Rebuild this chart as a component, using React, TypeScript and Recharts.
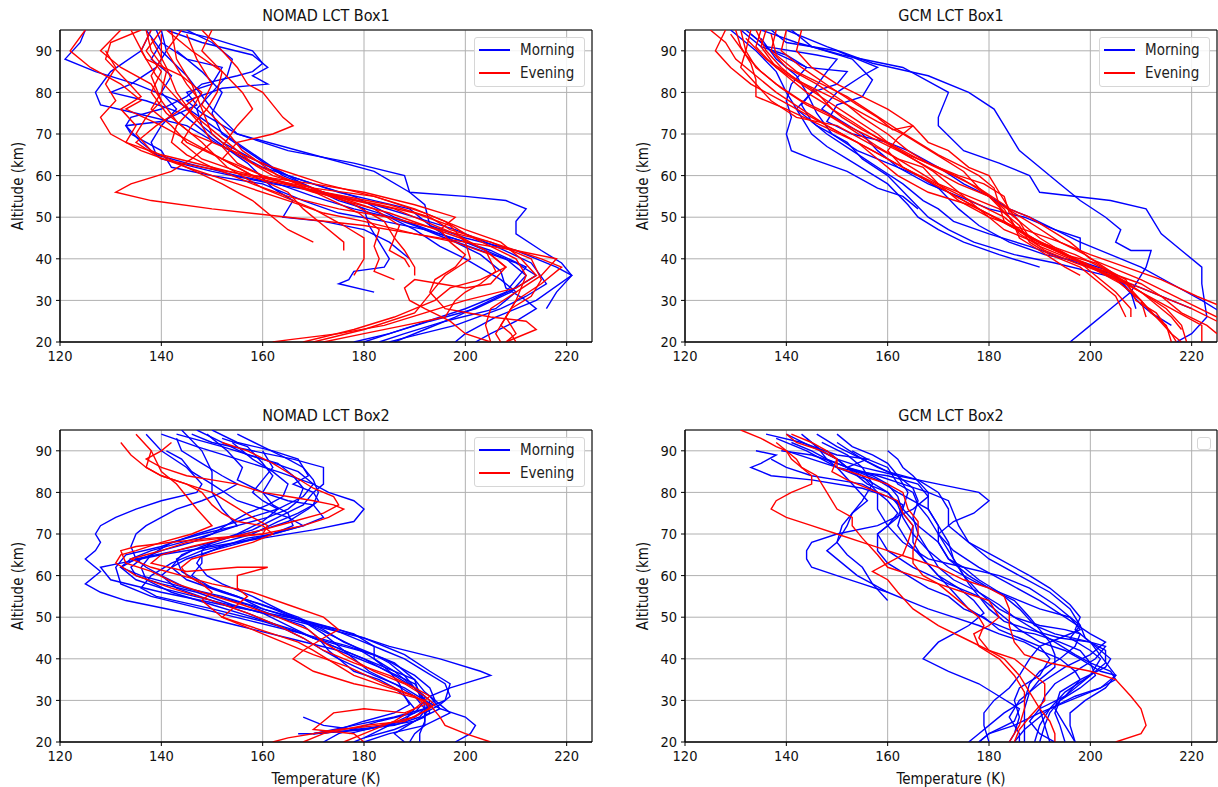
import React from "react";
import { LineChart, Line, XAxis, YAxis, CartesianGrid, ReferenceArea } from "recharts";

// temperature (K) ticks and altitude (km) ticks
const xTicks = [120, 140, 160, 180, 200, 220];
const yTicks = [20, 30, 40, 50, 60, 70, 80, 90];
const xDomain = [120, 225];
const yDomain = [20, 95];

// every profile is a list of [temperature, altitude]
const nomadBox1Morning = [
  [[137, 95], [140, 90], [145, 84], [150, 76], [155, 70], [165, 66], [178, 63], [188, 60], [189, 56], [200, 55], [208, 54], [212, 52], [210, 49], [210, 46], [215, 42], [219, 39], [221, 36], [218, 32], [216, 28]],
  [[141, 95], [148, 92], [158, 89], [161, 86], [158, 84], [161, 82], [152, 81], [145, 78], [148, 75], [155, 70], [170, 65], [182, 61], [189, 56], [192, 53], [193, 48], [200, 45], [210, 42], [218, 38], [221, 36], [214, 30], [206, 26], [200, 22], [198, 20]],
  [[138, 95], [136, 90], [130, 85], [127, 80], [128, 77], [135, 75], [145, 72], [152, 67], [160, 62], [170, 58], [178, 55], [186, 50], [195, 46], [205, 42], [212, 38], [208, 32], [200, 28], [190, 24], [180, 20]],
  [[140, 92], [145, 88], [152, 86], [150, 82], [145, 80], [147, 77], [140, 73], [133, 72], [134, 70], [140, 66], [142, 62], [150, 60], [160, 58], [168, 54], [175, 51], [184, 49], [192, 47], [200, 44], [208, 40], [212, 36], [209, 32], [202, 28], [193, 25], [185, 22], [178, 20]],
  [[143, 90], [148, 85], [152, 80], [150, 75], [152, 70], [158, 65], [164, 60], [170, 57], [176, 54], [180, 52], [181, 48], [183, 44], [185, 40], [184, 38], [178, 37], [177, 35], [175, 34], [182, 32]],
  [[140, 95], [141, 90], [139, 86], [134, 82], [130, 80], [137, 78], [144, 75], [150, 69], [157, 63], [162, 57], [166, 54], [164, 50], [172, 49], [180, 47], [185, 44], [189, 40]],
  [[143, 95], [150, 93], [158, 90], [160, 87], [158, 85], [155, 84], [148, 82], [145, 79], [140, 76], [134, 74], [133, 72], [136, 68], [140, 64], [150, 61], [162, 58], [172, 56], [182, 53], [190, 50], [198, 47], [206, 43], [213, 39], [216, 34], [212, 31], [207, 28], [198, 24], [188, 21], [185, 20]],
  [[145, 95], [150, 92], [154, 88], [153, 84], [150, 80], [147, 76], [148, 72], [152, 68], [158, 64], [165, 60], [175, 56], [182, 54], [189, 52], [193, 48], [198, 44], [203, 41], [207, 37], [208, 33], [212, 30], [214, 28], [210, 25], [205, 22], [202, 20]],
  [[139, 95], [140, 92], [138, 88], [142, 84], [140, 80], [143, 76], [140, 72], [138, 68], [139, 65], [145, 63], [155, 60], [163, 58], [170, 55], [178, 52], [185, 50], [190, 47], [195, 43], [200, 40], [207, 35], [210, 32], [206, 28], [196, 25], [188, 22], [183, 20]],
  [[125, 95], [124, 92], [121, 88], [127, 85], [135, 82], [143, 78], [150, 72], [156, 67], [162, 62], [168, 58], [175, 54], [183, 51], [190, 48], [196, 45], [203, 42], [210, 39], [214, 36], [210, 33], [205, 30], [198, 26], [192, 23], [186, 20]],
];

const nomadBox1Evening = [
  [[138, 95], [136, 90], [139, 84], [142, 80], [145, 76], [148, 72], [150, 68], [146, 64], [142, 61], [134, 58], [131, 56], [138, 54], [150, 52], [165, 50], [180, 48], [190, 46], [200, 44], [210, 42], [218, 40], [215, 36], [210, 32], [205, 28], [204, 24], [205, 20]],
  [[132, 95], [128, 90], [132, 86], [138, 82], [140, 78], [137, 74], [135, 70], [138, 66], [145, 62], [152, 58], [158, 54], [162, 50], [165, 47], [170, 44]],
  [[125, 95], [122, 90], [126, 86], [132, 82], [136, 78], [133, 76], [140, 72], [146, 68], [152, 64], [158, 60], [165, 56], [168, 52], [172, 48], [176, 44], [176, 42]],
  [[148, 95], [152, 90], [155, 86], [157, 82], [160, 80], [162, 77], [164, 74], [166, 72], [162, 70], [155, 68], [152, 64], [158, 60], [170, 57], [182, 55], [190, 52], [196, 49], [200, 46], [205, 43], [210, 40], [212, 36], [210, 30], [208, 26], [206, 22], [207, 20]],
  [[136, 95], [130, 92], [129, 88], [133, 83], [136, 79], [132, 76], [135, 72], [133, 68], [140, 65], [150, 62], [158, 58], [165, 55], [175, 52], [185, 50], [195, 47], [205, 44], [215, 40], [219, 38], [215, 34], [210, 30], [208, 26], [210, 22], [208, 20]],
  [[140, 94], [140, 88], [138, 84], [140, 78], [143, 73], [148, 68], [153, 62], [160, 57], [170, 52], [176, 48], [180, 45], [180, 40], [178, 36]],
  [[142, 95], [143, 88], [146, 82], [148, 76], [150, 70], [155, 65], [162, 60], [170, 57], [178, 53], [184, 49], [186, 45], [185, 42], [188, 40], [189, 38]],
  [[138, 93], [141, 86], [143, 80], [146, 75], [152, 69], [158, 63], [165, 59], [172, 55], [179, 51], [183, 47], [182, 43], [183, 40], [182, 37], [186, 35]],
  [[145, 94], [147, 88], [150, 82], [148, 77], [152, 72], [156, 66], [163, 60], [172, 56], [182, 52], [187, 48], [186, 45], [188, 42], [190, 38], [190, 36]],
  [[140, 95], [137, 90], [140, 85], [138, 80], [141, 75], [146, 70], [154, 66], [162, 62], [172, 58], [182, 55], [192, 51], [200, 47], [207, 44], [211, 40], [214, 36], [210, 33], [200, 30], [192, 27], [184, 24], [175, 22], [165, 20.5], [162, 20]],
  [[150, 95], [148, 90], [152, 85], [151, 80], [149, 76], [146, 72], [144, 68], [148, 64], [155, 61], [165, 58], [175, 55], [183, 53], [190, 51], [197, 48], [200, 44], [201, 40], [196, 36], [194, 33], [192, 30], [190, 27], [180, 23], [170, 20]],
  [[137, 95], [138, 90], [141, 85], [140, 80], [138, 76], [142, 72], [145, 68], [152, 64], [160, 60], [170, 56], [178, 54], [186, 52], [192, 49], [198, 46], [204, 42], [208, 38], [205, 34], [200, 33], [195, 34], [190, 35], [188, 33], [189, 30], [192, 28], [197, 25], [200, 22], [205, 20]],
  [[144, 95], [141, 90], [143, 86], [145, 82], [147, 79], [144, 76], [139, 72], [135, 68], [140, 64], [148, 62], [158, 60], [170, 58], [180, 56], [190, 53], [198, 50], [195, 47], [197, 44], [200, 41], [198, 38], [194, 35], [193, 32], [196, 28], [205, 26], [212, 25], [214, 23], [208, 20]],
  [[134, 95], [137, 88], [144, 84], [148, 80], [146, 76], [143, 72], [142, 68], [145, 65], [150, 62], [160, 59], [172, 56], [185, 53], [193, 50], [197, 47], [205, 44], [213, 40], [215, 35], [213, 31], [209, 28], [207, 24], [209, 22], [210, 20]],
  [[141, 95], [146, 90], [152, 85], [156, 80], [158, 76], [155, 72], [152, 67], [155, 63], [160, 60], [168, 57], [176, 54], [185, 51], [192, 48], [199, 45], [204, 42], [206, 37], [203, 34], [200, 32], [198, 30], [196, 26], [188, 24], [180, 22], [172, 20]],
  [[129, 90], [131, 86], [129, 82], [131, 78], [128, 74], [130, 70], [136, 66], [145, 62], [155, 58], [165, 54], [172, 51], [180, 49], [190, 46], [198, 44], [205, 41], [208, 38], [203, 35], [197, 33], [194, 30], [186, 26], [178, 23], [168, 20]],
];

const gcmBox1Morning = [
  [[135, 95], [142, 92], [151, 89], [163, 86], [172, 80], [170, 74], [170, 72], [175, 66], [182, 63], [188, 60], [190, 56], [204, 54], [211, 52], [214, 46], [218, 42], [222, 38], [222, 34], [223, 26], [220, 22], [217, 20]],
  [[140, 95], [148, 91], [157, 87], [168, 84], [176, 80], [181, 76], [183, 72], [186, 66], [190, 62], [194, 58], [198, 54], [203, 50], [206, 47], [205, 44], [208, 42], [212, 42], [211, 38], [208, 32], [204, 28], [200, 24], [196, 20]],
  [[131, 95], [135, 91], [140, 89], [144, 86], [141, 82], [140, 78], [141, 74], [140, 70], [141, 66], [145, 64], [152, 61], [158, 57], [163, 55], [166, 52]],
  [[133, 94], [136, 91], [146, 89], [150, 88], [148, 85], [145, 80], [143, 77], [145, 73], [148, 70], [153, 66], [158, 62], [163, 58], [167, 54], [170, 52], [173, 49], [180, 46], [188, 43], [195, 40], [200, 38], [205, 36], [208, 32], [209, 28]],
  [[137, 95], [140, 92], [150, 90], [158, 86], [155, 84], [150, 80], [147, 76], [151, 73], [155, 70], [158, 66], [162, 62], [168, 58], [174, 55], [180, 52], [187, 50], [193, 47], [198, 44], [204, 41], [210, 38], [216, 34], [222, 30], [226, 27]],
  [[135, 93], [138, 88], [142, 84], [144, 80], [146, 75], [149, 70], [154, 66], [160, 63], [166, 60], [170, 57], [174, 52], [178, 48], [184, 44], [191, 41], [199, 39], [204, 37], [207, 33], [210, 29], [212, 27], [216, 24]],
  [[132, 95], [137, 90], [144, 86], [152, 85], [150, 82], [145, 80], [142, 76], [146, 72], [152, 68], [155, 64], [160, 60], [164, 55], [168, 50], [172, 47], [177, 44], [185, 41], [193, 39], [203, 36], [210, 33], [216, 30], [220, 28]],
  [[141, 95], [145, 91], [153, 88], [157, 83], [155, 79], [150, 77], [148, 73], [153, 70], [160, 68], [164, 66], [170, 62], [175, 58], [180, 55], [184, 52], [188, 50], [193, 47], [198, 45], [198, 42]],
  [[129, 95], [134, 90], [138, 85], [140, 80], [143, 74], [145, 70], [148, 67], [152, 64], [156, 61], [160, 58], [164, 53], [166, 50], [170, 47], [175, 44], [182, 41], [190, 38]],
];

const gcmBox1Evening = [
  [[125, 95], [128, 92], [130, 88], [134, 84], [138, 80], [143, 76], [148, 72], [154, 68], [160, 64], [166, 60], [172, 56], [178, 52], [184, 48], [190, 44], [197, 40], [204, 36], [212, 32], [220, 28], [225, 25]],
  [[128, 95], [126, 90], [129, 86], [133, 82], [139, 78], [145, 74], [151, 70], [157, 66], [163, 62], [169, 58], [175, 54], [181, 50], [187, 46], [193, 42], [200, 38], [207, 34], [213, 30], [219, 26], [222, 24], [222, 20]],
  [[130, 95], [131, 91], [133, 87], [134, 83], [134, 79], [140, 76], [147, 72], [154, 68], [158, 64], [162, 60], [168, 56], [176, 53], [183, 49], [188, 45], [193, 42], [199, 39], [205, 35], [210, 30], [213, 26], [216, 22], [217, 20]],
  [[133, 95], [132, 90], [134, 86], [138, 82], [143, 78], [148, 75], [152, 72], [157, 69], [162, 66], [168, 62], [174, 58], [180, 55], [184, 50], [186, 46], [190, 43], [196, 40], [203, 37], [210, 34], [214, 31], [218, 27], [223, 24], [225, 22]],
  [[135, 95], [134, 91], [137, 87], [140, 84], [144, 80], [148, 77], [151, 74], [155, 71], [160, 68], [166, 64], [173, 60], [178, 57], [183, 53], [186, 49], [188, 45], [191, 42], [197, 39], [204, 36], [210, 32], [213, 29], [216, 26], [218, 23]],
  [[132, 93], [136, 88], [141, 84], [146, 80], [149, 76], [153, 73], [158, 69], [164, 65], [170, 62], [175, 59], [180, 55], [183, 52], [185, 48], [186, 45], [190, 42], [195, 38], [198, 36]],
  [[138, 95], [137, 90], [140, 86], [146, 82], [151, 78], [155, 74], [160, 70], [164, 66], [168, 63], [174, 60], [179, 58], [183, 55], [184, 51], [187, 48], [190, 45], [194, 42], [200, 38], [206, 34], [210, 30], [212, 27], [215, 24], [216, 20]],
  [[140, 95], [139, 90], [143, 86], [149, 81], [154, 77], [158, 74], [161, 71], [165, 72], [162, 69], [160, 66], [163, 62], [168, 59], [173, 56], [178, 53], [183, 50], [186, 47], [190, 44], [197, 41], [202, 38], [207, 34], [210, 30], [211, 26]],
  [[137, 94], [138, 89], [142, 85], [147, 82], [152, 79], [157, 75], [162, 71], [166, 68], [170, 65], [175, 62], [178, 60], [181, 57], [182, 53], [183, 49], [187, 46], [192, 43], [197, 40], [200, 37], [205, 32], [208, 28], [208, 26]],
  [[134, 95], [136, 90], [139, 86], [142, 83], [147, 80], [152, 77], [158, 73], [163, 70], [167, 67], [171, 64], [175, 61], [178, 57], [181, 54], [185, 51], [189, 48], [194, 44], [199, 41], [204, 37], [207, 35], [209, 30], [213, 27], [216, 22], [218, 20]],
  [[143, 95], [142, 90], [145, 86], [150, 82], [155, 79], [160, 76], [165, 72], [168, 68], [172, 66], [176, 62], [180, 60], [182, 56], [184, 52], [188, 50], [192, 47], [196, 44], [200, 40], [204, 38], [210, 35], [215, 32], [220, 29], [225, 26]],
  [[131, 95], [132, 90], [131, 86], [134, 82], [137, 78], [142, 74], [150, 72], [156, 68], [162, 64], [167, 62], [170, 58], [174, 54], [180, 50], [187, 47], [194, 44], [200, 41], [207, 38], [214, 35], [221, 31], [225, 29]],
  [[136, 95], [135, 91], [138, 86], [143, 82], [148, 78], [153, 74], [158, 70], [161, 67], [165, 64], [169, 61], [173, 57], [177, 53], [180, 50], [183, 47], [189, 44], [195, 41], [201, 39], [205, 36], [210, 32], [215, 28], [218, 24], [219, 20]],
  [[129, 94], [132, 89], [135, 85], [139, 81], [144, 77], [149, 74], [153, 71], [158, 67], [162, 64], [166, 61], [170, 58], [176, 55], [182, 52], [186, 48], [188, 44], [192, 41], [198, 38], [202, 34], [205, 31], [207, 26]],
];

const nomadBox2Morning = [
  [[140, 94], [147, 91], [155, 88], [163, 85], [170, 82], [173, 80], [178, 78], [180, 76], [178, 73], [170, 71], [160, 69], [150, 67], [140, 65], [132, 63], [128, 62], [130, 59], [140, 56], [152, 53], [165, 50], [175, 47], [185, 43], [195, 40], [203, 37], [205, 36], [197, 33], [193, 31], [195, 28], [200, 26], [202, 24], [201, 22], [198, 20]],
  [[137, 94], [140, 90], [145, 86], [148, 82], [147, 80], [140, 78], [135, 76], [131, 74], [128, 72], [127, 70], [128, 68], [127, 66], [125, 64], [128, 61], [125, 58], [128, 56], [133, 54], [145, 51], [155, 48], [165, 45], [175, 42], [183, 38], [190, 34], [192, 30], [193, 27], [190, 25], [180, 23], [170, 22]],
  [[143, 94], [152, 91], [160, 88], [167, 85], [170, 82], [168, 79], [163, 76], [155, 73], [147, 70], [140, 67], [133, 65], [131, 62], [132, 58], [138, 55], [148, 52], [158, 49], [168, 46], [177, 43], [184, 40], [190, 36], [193, 33], [194, 30], [192, 28], [186, 26], [178, 24], [170, 22], [167, 22]],
  [[146, 94], [150, 92], [158, 90], [166, 88], [172, 86], [172, 82], [170, 80], [168, 77], [163, 74], [158, 71], [150, 68], [143, 66], [135, 64], [132, 62], [135, 59], [140, 57], [150, 54], [160, 51], [170, 48], [180, 45], [188, 41], [193, 37], [197, 34], [196, 30], [190, 27], [183, 25], [175, 22], [172, 20]],
  [[141, 90], [144, 88], [146, 85], [150, 82], [155, 78], [160, 76], [165, 74], [168, 72], [162, 70], [155, 68], [148, 66], [142, 63], [138, 60], [136, 57], [139, 55], [150, 52], [160, 49], [168, 46], [174, 43], [180, 40], [186, 36], [190, 33], [192, 30], [190, 27], [185, 24], [180, 21], [178, 20]],
  [[144, 95], [148, 90], [150, 85], [150, 80], [152, 76], [155, 72], [150, 70], [144, 68], [138, 66], [134, 64], [132, 62], [136, 60], [145, 57], [152, 55], [160, 52], [168, 49], [173, 46], [178, 43], [182, 40], [186, 37], [190, 33], [193, 30], [192, 26], [186, 23], [180, 21]],
  [[149, 94], [153, 90], [156, 86], [155, 83], [160, 80], [165, 78], [170, 77], [172, 74], [168, 72], [162, 70], [156, 68], [150, 66], [145, 64], [142, 62], [140, 60], [143, 57], [150, 54], [157, 51], [163, 48], [168, 45], [172, 42], [175, 40], [182, 36], [188, 33], [192, 30], [195, 28], [190, 25], [186, 22], [188, 20]],
  [[150, 95], [155, 92], [162, 90], [167, 88], [169, 84], [166, 82], [170, 80], [171, 78], [169, 76], [165, 73], [160, 71], [153, 69], [148, 67], [144, 65], [142, 62], [145, 59], [152, 56], [160, 53], [167, 50], [172, 47], [176, 44], [180, 42], [186, 39], [190, 35], [191, 31], [193, 29], [191, 26], [186, 24], [178, 23], [172, 24], [168, 26]],
  [[152, 93], [157, 91], [160, 87], [162, 84], [160, 80], [162, 77], [165, 75], [166, 72], [162, 70], [157, 69], [152, 67], [148, 65], [147, 63], [149, 60], [152, 58], [158, 55], [163, 52], [168, 49], [172, 46], [175, 43], [178, 40], [181, 37], [186, 34], [190, 31], [192, 28], [192, 25], [191, 22], [191, 20]],
  [[143, 93], [144, 90], [148, 87], [152, 84], [155, 82], [152, 80], [148, 78], [143, 76], [140, 74], [137, 72], [135, 70], [134, 67], [135, 64], [137, 62], [140, 60], [145, 57], [151, 55], [157, 53], [163, 50], [168, 48], [171, 45], [173, 42], [175, 40], [178, 37], [183, 35], [186, 33], [188, 31], [189, 29], [186, 27], [180, 25], [175, 23], [170, 22]],
  [[155, 94], [160, 91], [165, 88], [168, 86], [170, 83], [171, 80], [170, 77], [167, 75], [163, 73], [158, 70], [152, 68], [146, 66], [143, 64], [144, 61], [148, 58], [155, 55], [162, 52], [168, 49], [174, 47], [180, 44], [184, 42], [188, 40], [192, 37], [196, 34], [197, 31], [195, 29], [192, 27], [192, 24], [190, 22], [189, 20]],
  [[160, 90], [162, 86], [160, 83], [158, 80], [160, 78], [163, 76], [160, 73], [155, 70], [150, 68], [148, 66], [148, 63], [146, 60], [150, 57], [155, 55], [160, 52], [166, 50], [172, 48], [178, 46], [182, 43], [182, 40], [185, 37], [187, 34], [188, 31], [190, 28], [188, 25], [180, 23], [170, 22]],
  [[147, 95], [152, 92], [157, 89], [163, 87], [166, 84], [168, 81], [167, 78], [165, 76], [161, 74], [155, 72], [148, 70], [142, 68], [138, 65], [136, 62], [137, 59], [142, 56], [150, 53], [158, 50], [166, 47], [172, 44], [178, 41], [184, 38], [190, 35], [192, 32], [194, 30], [197, 27], [192, 24], [185, 22], [180, 20]],
  [[154, 92], [158, 88], [162, 85], [165, 82], [164, 79], [161, 77], [157, 75], [154, 73], [150, 70], [146, 68], [140, 66], [136, 64], [134, 62], [135, 60], [140, 58], [147, 56], [154, 53], [160, 51], [165, 48], [170, 45], [176, 43], [182, 41], [185, 39], [188, 36], [190, 33], [192, 31], [192, 28], [190, 26], [184, 24], [177, 22]],
];

const nomadBox2Evening = [
  [[132, 92], [134, 89], [137, 86], [140, 84], [145, 82], [150, 80], [154, 77], [158, 74], [161, 72], [160, 70], [150, 69], [142, 68], [135, 67], [132, 66], [133, 63], [138, 61], [143, 58], [148, 56], [156, 53], [163, 50], [169, 47], [172, 44], [176, 41], [182, 37], [188, 34], [192, 31], [194, 29], [190, 26], [183, 24], [175, 23], [165, 21], [162, 20]],
  [[135, 94], [138, 90], [137, 86], [140, 84], [145, 82], [148, 80], [150, 77], [152, 75], [155, 73], [160, 72], [162, 70], [158, 68], [152, 66], [146, 64], [144, 62], [145, 60], [148, 58], [150, 56], [148, 54], [150, 52], [152, 50], [157, 48], [162, 46], [167, 44], [170, 42], [174, 39], [178, 36], [185, 33], [190, 31], [193, 29], [195, 26], [196, 24], [200, 22], [205, 20]],
  [[142, 92], [140, 90], [137, 88], [140, 86], [145, 84], [150, 83], [155, 82], [160, 80], [165, 79], [170, 78], [174, 77], [176, 76], [173, 74], [168, 72], [160, 70], [152, 69], [145, 68], [140, 66], [137, 65], [134, 64], [138, 62], [144, 60], [150, 58], [158, 56], [165, 53], [172, 50], [175, 47], [172, 45], [168, 42], [166, 40], [170, 37], [178, 34], [186, 32], [192, 30], [193, 28], [188, 25], [180, 24], [172, 22], [168, 20]],
  [[152, 92], [157, 90], [162, 87], [166, 84], [170, 81], [174, 79], [175, 77], [172, 75], [166, 73], [160, 71], [153, 69], [146, 67], [140, 65], [138, 63], [145, 61], [155, 62], [161, 62], [155, 60], [155, 57], [157, 55], [155, 53], [152, 50], [158, 47], [164, 44], [170, 41], [177, 38], [184, 34], [190, 31], [192, 29], [188, 27], [180, 28], [174, 27], [172, 25], [170, 23], [178, 22], [180, 20]],
  [[138, 90], [140, 85], [143, 82], [145, 79], [147, 76], [150, 72], [146, 70], [140, 68], [135, 66], [132, 65], [131, 63], [135, 60], [142, 57], [150, 54], [157, 51], [163, 48], [168, 45], [172, 42], [178, 39], [185, 36], [190, 33], [193, 31], [190, 28], [186, 25], [180, 22], [176, 20]],
];

const gcmBox2Morning = [
  [[136, 94], [143, 92], [150, 89], [156, 88], [152, 86], [158, 84], [163, 82], [168, 80], [172, 78], [174, 72], [176, 68], [180, 64], [186, 60], [192, 56], [196, 52], [198, 48], [196, 45], [200, 42], [202, 40], [200, 36], [195, 32], [192, 28], [190, 24], [189, 20]],
  [[140, 94], [145, 91], [150, 88], [155, 86], [162, 84], [170, 82], [178, 80], [180, 78], [177, 75], [173, 73], [170, 70], [173, 66], [178, 62], [184, 58], [190, 54], [195, 50], [200, 46], [203, 44], [200, 41], [195, 38], [190, 34], [186, 30], [184, 26], [186, 22], [186, 20]],
  [[134, 90], [138, 89], [135, 87], [133, 86], [137, 84], [145, 83], [155, 81], [160, 79], [163, 77], [162, 74], [160, 72], [158, 70], [160, 66], [165, 62], [172, 58], [178, 55], [182, 51], [186, 47], [190, 44], [195, 42], [198, 40], [202, 37], [205, 36], [202, 33], [196, 30], [190, 27], [185, 24], [180, 22], [178, 20]],
  [[141, 92], [145, 90], [148, 88], [150, 86], [154, 85], [160, 84], [166, 82], [168, 79], [165, 76], [158, 72], [150, 70], [145, 68], [144, 66], [144, 64], [145, 62], [150, 60], [155, 58], [160, 56], [164, 54], [168, 52], [173, 50], [178, 48], [182, 46], [187, 44], [190, 42], [194, 40], [197, 37], [198, 35], [195, 31], [190, 28], [188, 25], [190, 22], [193, 20]],
  [[146, 94], [150, 91], [155, 88], [158, 86], [162, 84], [164, 80], [163, 76], [162, 72], [164, 68], [167, 64], [170, 60], [174, 57], [177, 54], [179, 51], [176, 48], [173, 46], [170, 44], [167, 40], [172, 37], [178, 34], [182, 31], [186, 28], [185, 25], [180, 22], [178, 20]],
  [[140, 90], [145, 88], [150, 86], [153, 82], [156, 78], [153, 75], [151, 72], [150, 68], [152, 65], [155, 62], [157, 58], [160, 54]],
  [[147, 92], [152, 89], [155, 86], [157, 82], [155, 78], [153, 75], [152, 72], [150, 68], [148, 66], [151, 63], [154, 60], [157, 58], [160, 56]],
  [[150, 94], [153, 91], [157, 89], [160, 87], [162, 84], [165, 81], [166, 78], [165, 74], [166, 70], [168, 66], [172, 62], [178, 58], [184, 55], [190, 52], [196, 50], [198, 48], [199, 45], [202, 42], [204, 40], [203, 38], [198, 35], [194, 32], [193, 28], [195, 24], [196, 22], [197, 20]],
  [[153, 90], [156, 88], [160, 86], [162, 82], [165, 80], [166, 77], [168, 74], [170, 70], [172, 66], [174, 62], [176, 58], [178, 55], [180, 52], [183, 49], [188, 47], [194, 45], [200, 44], [203, 43], [201, 40], [197, 37], [193, 34], [191, 31], [190, 28], [191, 24], [190, 20]],
  [[144, 93], [147, 90], [150, 88], [153, 85], [156, 82], [160, 80], [162, 77], [163, 74], [165, 70], [168, 66], [170, 62], [173, 59], [178, 56], [182, 53], [185, 50], [189, 47], [193, 44], [197, 41], [200, 39], [204, 37], [205, 35], [202, 33], [197, 31], [192, 28], [190, 26], [187, 23], [185, 20]],
  [[160, 90], [162, 88], [163, 86], [165, 84], [168, 80], [168, 76], [170, 72], [170, 68], [172, 64], [176, 60], [180, 57], [185, 54], [188, 50], [190, 47], [192, 44], [193, 41], [193, 38], [190, 35], [188, 32], [187, 28], [187, 24], [187, 20]],
  [[139, 90], [145, 89], [150, 87], [154, 85], [158, 83], [162, 80], [168, 76], [170, 72], [172, 68], [173, 64], [175, 60], [178, 56], [182, 52], [185, 50], [190, 48], [195, 47], [198, 46], [197, 43], [194, 40], [190, 37], [188, 34], [187, 30], [183, 27], [180, 24], [178, 22], [176, 20]],
  [[143, 94], [146, 91], [148, 88], [152, 86], [157, 84], [160, 82], [162, 79], [163, 75], [165, 72], [165, 68], [167, 64], [170, 60], [173, 56], [176, 52], [180, 49], [184, 47], [189, 46], [194, 44], [198, 42], [200, 39], [201, 36], [198, 33], [194, 30], [193, 27], [194, 24], [195, 20]],
  [[137, 88], [140, 86], [145, 84], [150, 83], [155, 82], [158, 80], [160, 78], [162, 75], [160, 72], [158, 70], [158, 66], [160, 63], [164, 60], [168, 57], [172, 55], [175, 52], [179, 50], [182, 47], [186, 45], [190, 43], [192, 40], [190, 36], [186, 33], [185, 30], [186, 26], [185, 22], [184, 20]],
  [[150, 92], [155, 88], [160, 85], [166, 83], [170, 80], [172, 76], [172, 72], [176, 68], [182, 64], [188, 60], [192, 57], [196, 53], [198, 50], [197, 47], [200, 44], [203, 42], [203, 39], [200, 36], [197, 33], [194, 30], [192, 27], [191, 24], [192, 20]],
  [[148, 90], [150, 88], [152, 86], [155, 84], [158, 80], [158, 76], [160, 72], [163, 68], [168, 64], [175, 62], [182, 60], [188, 57], [193, 53], [196, 50], [198, 47], [194, 45], [190, 43], [188, 40], [186, 36], [184, 33], [181, 30], [179, 27], [179, 24], [180, 20]],
  [[138, 93], [144, 90], [150, 86], [156, 83], [160, 80], [163, 76], [166, 72], [170, 68], [172, 64], [175, 62], [178, 59], [182, 56], [186, 52], [189, 48], [193, 46], [200, 44], [205, 36], [203, 33], [199, 30], [196, 27], [196, 24], [197, 20]],
];

const gcmBox2Evening = [
  [[131, 95], [135, 93], [138, 91], [140, 90], [141, 88], [143, 86], [145, 84], [145, 82], [141, 80], [138, 78], [137, 76], [140, 74], [145, 72], [150, 70], [155, 68], [160, 66], [165, 64], [170, 62], [175, 59], [180, 57], [183, 55], [184, 52], [184, 48], [185, 44], [187, 41], [192, 39], [200, 37], [205, 35], [208, 31], [210, 28], [211, 24], [210, 22], [205, 20]],
  [[140, 94], [142, 92], [147, 90], [150, 88], [150, 86], [155, 84], [160, 82], [163, 80], [164, 76], [166, 73], [166, 70], [165, 66], [165, 63], [167, 60], [170, 58], [173, 55], [176, 52], [178, 50], [179, 48], [178, 45], [180, 42], [183, 40], [186, 36], [188, 32], [190, 28], [192, 25], [193, 22], [193, 20]],
  [[138, 92], [140, 90], [142, 88], [143, 86], [146, 84], [148, 80], [150, 76], [153, 74], [153, 72], [155, 69], [158, 65], [160, 62], [165, 60], [170, 58], [175, 56], [180, 54], [182, 50], [180, 48], [177, 46], [178, 43], [182, 40], [185, 36], [187, 32], [187, 28], [186, 24], [184, 20]],
  [[141, 94], [145, 92], [148, 90], [150, 88], [149, 85], [152, 83], [158, 80], [162, 78], [163, 75], [165, 72], [164, 68], [163, 65], [160, 63], [157, 61], [160, 59], [162, 56], [165, 52], [170, 48], [175, 45], [180, 42], [185, 40], [188, 37], [191, 34], [191, 30], [188, 26], [186, 23], [185, 20]],
];

const FONT = "'DejaVu Sans Condensed', 'DejaVu Sans', sans-serif";
const BLUE = "#0000ff";
const RED = "#ff0000";
const PLOT_W = 532;
const Y_AXIS_W = 45;

const toPoints = (profile: number[][]) => profile.map(([t, alt]) => ({ t, alt }));

const LegendBox = ({ left, top }: { left: number; top: number }) => (
  <div
    style={{
      position: "absolute",
      left,
      top,
      width: 111,
      height: 50,
      boxSizing: "border-box",
      border: "1px solid #d6d6d6",
      borderRadius: 3,
      background: "rgba(255,255,255,0.85)",
      fontFamily: FONT,
      fontSize: 15,
      color: "#222",
    }}
  >
    {[
      { name: "Morning", color: BLUE },
      { name: "Evening", color: RED },
    ].map((item, i) => (
      <div key={item.name} style={{ position: "absolute", left: 4, top: 2 + i * 23, height: 20, display: "flex", alignItems: "center" }}>
        <div style={{ width: 31, height: 2, background: item.color, marginRight: 10 }} />
        <span>{item.name}</span>
      </div>
    ))}
  </div>
);

interface IPanelProps {
  title: string;
  morning: number[][][];
  evening: number[][][];
  left: number;
  top: number;
  height: number;
  plotLeft: number;
  xLabel?: string;
  legend: "full" | "empty";
}

const ProfilePanel = ({ title, morning, evening, left, top, height, plotLeft, xLabel, legend }: IPanelProps) => {
  const xAxisH = xLabel ? 42 : 30;
  const bottom = height - 30 - 312 - xAxisH;
  const rightMargin = 609 - plotLeft - PLOT_W;
  return (
    <div style={{ position: "absolute", left, top, width: 609, height }}>
      <div
        style={{
          position: "absolute",
          left: plotLeft,
          top: 6,
          width: PLOT_W,
          textAlign: "center",
          fontFamily: FONT,
          fontSize: 16,
          lineHeight: "19px",
          color: "#111",
        }}
      >
        {title}
      </div>
      <LineChart
        width={609}
        height={height}
        margin={{ top: 30, right: rightMargin, bottom, left: plotLeft - Y_AXIS_W }}
        style={{ fontFamily: FONT }}
      >
        <CartesianGrid stroke="#b0b0b0" strokeWidth={1} />
        <XAxis
          type="number"
          dataKey="t"
          domain={xDomain}
          ticks={xTicks}
          allowDataOverflow
          height={xAxisH}
          tickSize={4}
          tickMargin={5}
          axisLine={{ stroke: "#000" }}
          tickLine={{ stroke: "#000" }}
          tick={{ fill: "#111", fontSize: 14.5 }}
          label={xLabel ? { value: xLabel, position: "insideBottom", offset: 0, fill: "#111", fontSize: 15 } : undefined}
        />
        <YAxis
          type="number"
          dataKey="alt"
          domain={yDomain}
          ticks={yTicks}
          allowDataOverflow
          width={Y_AXIS_W}
          tickSize={4}
          tickMargin={4}
          axisLine={{ stroke: "#000" }}
          tickLine={{ stroke: "#000" }}
          tick={{ fill: "#111", fontSize: 14.5 }}
          label={{
            value: "Altitude (km)",
            angle: -90,
            position: "insideLeft",
            offset: 3,
            fill: "#111",
            fontSize: 15,
            style: { textAnchor: "middle" },
          }}
        />
        {morning.map((p, i) => (
          <Line
            key={"m" + i}
            data={toPoints(p)}
            dataKey="alt"
            type="linear"
            stroke={BLUE}
            strokeWidth={1.4}
            dot={false}
            activeDot={false}
            isAnimationActive={false}
          />
        ))}
        {evening.map((p, i) => (
          <Line
            key={"e" + i}
            data={toPoints(p)}
            dataKey="alt"
            type="linear"
            stroke={RED}
            strokeWidth={1.4}
            dot={false}
            activeDot={false}
            isAnimationActive={false}
          />
        ))}
        <ReferenceArea x1={120} x2={225} y1={20} y2={95} fill="none" stroke="#000" strokeWidth={1} ifOverflow="visible" />
      </LineChart>
      {legend === "full" ? (
        <LegendBox left={plotLeft + PLOT_W - 118} top={37} />
      ) : (
        <div
          style={{
            position: "absolute",
            left: plotLeft + PLOT_W - 20,
            top: 37,
            width: 14,
            height: 13,
            boxSizing: "border-box",
            border: "1px solid #d6d6d6",
            borderRadius: 3,
          }}
        />
      )}
    </div>
  );
};

const App = () => {
  return (
    <div style={{ position: "absolute", left: 0, top: 0, width: 1218, height: 787, background: "#fff" }}>
      <ProfilePanel title="NOMAD LCT Box1" morning={nomadBox1Morning} evening={nomadBox1Evening} left={0} top={0} height={390} plotLeft={60} legend="full" />
      <ProfilePanel title="GCM LCT Box1" morning={gcmBox1Morning} evening={gcmBox1Evening} left={609} top={0} height={390} plotLeft={76} legend="full" />
      <ProfilePanel title="NOMAD LCT Box2" morning={nomadBox2Morning} evening={nomadBox2Evening} left={0} top={400} height={387} plotLeft={60} xLabel="Temperature (K)" legend="full" />
      <ProfilePanel title="GCM LCT Box2" morning={gcmBox2Morning} evening={gcmBox2Evening} left={609} top={400} height={387} plotLeft={76} xLabel="Temperature (K)" legend="empty" />
    </div>
  );
};

export default App;
